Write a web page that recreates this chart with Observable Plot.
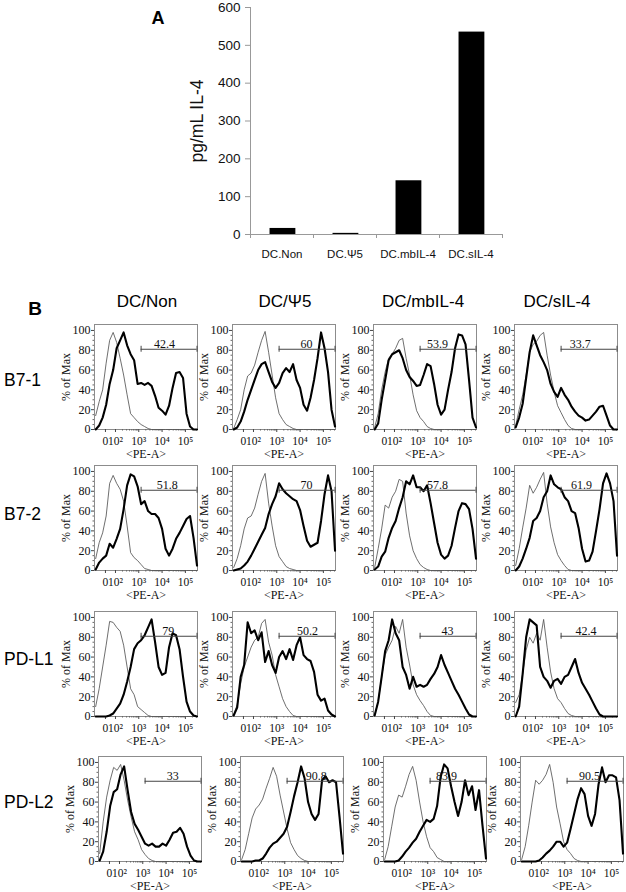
<!DOCTYPE html>
<html><head><meta charset="utf-8">
<script src="https://cdn.jsdelivr.net/npm/d3@7"></script>
<script src="https://cdn.jsdelivr.net/npm/@observablehq/plot@0.6"></script>
<style>
body{margin:0;background:#fff;}
#fig{position:relative;width:626px;height:892px;overflow:hidden;font-family:"Liberation Sans",Arial,sans-serif;color:#000;}
.t{position:absolute;white-space:nowrap;transform:translate(-50%,-50%);line-height:1;}
</style></head><body><div id="fig"></div>
<script>
// ---------- Panel A data ----------
const barCategories = ["DC.Non", "DC.\u03A85", "DC.mbIL-4", "DC.sIL-4"];
const il4Values = [16, 3, 142, 535];
const il4Ticks = [0, 100, 200, 300, 400, 500, 600];

// ---------- Panel B data ----------
const conditions = ["DC/Non", "DC/\u03A85", "DC/mbIL-4", "DC/sIL-4"];
const markers = ["B7-1", "B7-2", "PD-L1", "PD-L2"];
// x grid in decades of <PE-A> (display coordinate)
const XS = [1.15,1.3,1.45,1.6,1.75,1.9,2.05,2.2,2.35,2.5,2.65,2.8,2.95,3.1,3.25,3.4,3.55,3.7,3.85,4.0,4.15,4.3,4.45,4.6,4.75,4.9,5.05,5.2,5.35,5.5];
const xTickPos = [1.57, 2, 3, 4, 5];
const xTickText = ["0", "10\u00B2", "10\u00B3", "10\u2074", "10\u2075"];
const yTicks = [0, 20, 40, 60, 80, 100];

// isotype (thin) and stained (thick) histograms, % of max, columns = conditions
const isoB71 = [
  [14,28,40,67,90,98,88,72,55,35,16,12,8,5,3,1,0,0,0,0,0,0,0,0,0,0,0,0,0,0],
  [1,10,20,40,54,57,65,78,90,99,78,55,32,16,10,5,3,1,0,0,0,0,0,0,0,0,0,0,0,0],
  [2,16,40,58,72,76,82,90,92,72,55,35,19,12,8,3,1,0,0,0,0,0,0,0,0,0,0,0,0,0],
  [4,20,35,55,78,86,89,95,98,75,55,38,24,17,10,4,1,0,0,0,0,0,0,0,0,0,0,0,0,0]
];
const stainB71 = [
  [0,4,12,25,46,60,82,90,98,85,76,70,46,47,45,47,44,34,22,19,15,24,42,57,58,52,16,3,0,0],
  [0,2,8,18,30,40,50,60,66,68,58,48,42,47,57,62,58,66,50,42,25,19,32,50,72,98,82,58,20,3],
  [0,6,30,50,70,76,78,80,72,60,53,49,44,45,55,66,64,46,25,15,20,40,58,82,96,95,86,50,12,2],
  [2,12,26,52,78,95,85,75,68,60,46,38,33,42,35,30,23,18,14,12,9,10,14,18,23,24,14,4,0,0]
];
const isoB72 = [
  [12,28,38,55,88,96,88,82,70,45,18,13,10,6,2,1,0,0,0,0,0,0,0,0,0,0,0,0,0,0],
  [3,12,25,42,53,55,63,77,90,98,68,45,25,14,9,4,2,1,0,0,0,0,0,0,0,0,0,0,0,0],
  [3,22,42,66,63,74,80,92,90,58,35,20,12,6,3,1,0,0,0,0,0,0,0,0,0,0,0,0,0,0],
  [5,22,43,63,86,78,84,92,99,68,44,28,16,10,5,1,0,0,0,0,0,0,0,0,0,0,0,0,0,0]
];
const stainB72 = [
  [1,8,12,15,27,23,32,42,62,86,97,95,85,67,70,60,57,57,53,42,22,15,22,32,38,45,52,55,33,5],
  [0,1,2,5,9,15,22,29,36,43,57,67,75,88,82,78,75,72,70,61,45,30,24,26,28,50,77,96,80,20],
  [1,4,14,19,33,43,50,63,74,90,87,96,84,84,80,86,68,48,28,16,12,15,25,43,60,68,67,62,42,12],
  [0,4,12,22,33,50,53,60,74,80,96,87,84,82,74,70,60,58,43,22,9,10,19,40,62,88,98,88,70,15]
];
const isoPDL1 = [
  [10,28,50,72,96,95,90,86,72,50,28,22,10,7,4,1,0,0,0,0,0,0,0,0,0,0,0,0,0,0],
  [2,12,33,50,60,70,77,80,94,98,75,62,42,30,18,10,5,1,0,0,0,0,0,0,0,0,0,0,0,0],
  [2,15,40,62,70,77,91,84,98,70,52,32,22,16,11,5,1,0,0,0,0,0,0,0,0,0,0,0,0,0],
  [14,22,43,67,80,74,84,77,98,70,45,28,18,14,8,3,1,0,0,0,0,0,0,0,0,0,0,0,0,0]
];
const stainPDL1 = [
  [0,0,0,0,1,3,8,13,22,35,50,68,74,77,82,90,98,75,50,42,44,70,84,82,68,40,15,5,1,0],
  [1,9,40,52,95,84,87,77,85,55,66,52,44,60,66,58,68,57,72,80,62,58,56,45,22,16,18,6,2,0],
  [1,15,40,66,77,98,84,77,50,42,28,40,30,32,30,32,38,43,50,62,52,44,36,28,22,15,8,2,0,0],
  [0,10,43,80,98,95,92,50,40,36,29,36,38,33,40,42,50,58,44,34,28,22,15,8,2,0,0,0,0,0]
];
const isoPDL2 = [
  [8,40,65,82,95,92,98,82,62,45,30,22,12,7,3,1,0,0,0,0,0,0,0,0,0,0,0,0,0,0],
  [2,12,28,44,53,57,63,74,84,95,86,67,50,33,19,12,6,3,1,0,0,0,0,0,0,0,0,0,0,0],
  [2,15,35,55,67,65,76,88,96,82,60,40,25,14,10,4,2,0,0,0,0,0,0,0,0,0,0,0,0,0],
  [2,15,36,60,82,78,82,88,98,80,55,38,20,12,8,3,1,0,0,0,0,0,0,0,0,0,0,0,0,0]
];
const stainPDL2 = [
  [1,10,30,56,70,73,88,96,72,50,38,32,25,18,16,18,15,15,18,16,22,29,30,34,28,15,6,1,0,0],
  [0,0,0,0,1,1,3,8,14,18,20,24,28,35,50,66,80,96,84,60,48,42,48,82,86,80,82,80,45,8],
  [0,0,0,0,1,5,10,14,19,23,30,36,42,40,43,56,85,98,94,76,60,46,60,82,67,76,52,72,36,3],
  [0,0,0,0,0,1,4,8,11,15,20,20,15,19,33,48,63,74,68,46,36,48,78,95,80,87,87,85,62,8]
];
const gatePct = [
  ["42.4", "60", "53.9", "33.7"],
  ["51.8", "70", "57.8", "61.9"],
  ["79", "50.2", "43", "42.4"],
  ["33", "90.8", "83.9", "90.5"]
];
const gateLabelAt = [
  [4.1, 4.28, 3.85, 3.92],
  [4.22, 4.28, 3.85, 3.98],
  [4.26, 4.32, 4.28, 4.17],
  [4.29, 4.35, 3.8, 4.06]
];
const gateFrom = 3.1, gateTo = 5.5, gateLevel = 81;

// ---------- helpers ----------
const fig = document.getElementById("fig");
function put(el, left, top) {
  el.style.position = "absolute"; el.style.left = left + "px"; el.style.top = top + "px";
  fig.appendChild(el);
}
function label(text, cx, cy, size, bold, anchorLeft) {
  const d = document.createElement("div");
  d.className = "t"; d.textContent = text;
  d.style.fontSize = size + "px";
  if (bold) d.style.fontWeight = "bold";
  d.style.left = cx + "px"; d.style.top = cy + "px";
  if (anchorLeft) d.style.transform = "translate(0,-50%)";
  fig.appendChild(d);
}

// ---------- Panel A ----------
const barData = barCategories.map((c, i) => ({c, i, v: il4Values[i]}));
const chartA = Plot.plot({
  width: 370, height: 270,
  marginLeft: 110, marginRight: 8, marginTop: 7, marginBottom: 36,
  style: {fontFamily: "'Liberation Sans', Arial, sans-serif", background: "transparent", overflow: "visible", color: "#111"},
  x: {domain: [0, 4]},
  y: {domain: [0, 600]},
  marks: [
    Plot.rectY(barData, {x1: d => d.i + 0.31, x2: d => d.i + 0.72, y1: 0, y2: "v", fill: "#000"}),
    Plot.axisY({ticks: il4Ticks, tickSize: 5, tickPadding: 5, fontSize: 13.5, stroke: "#999", label: null}),
    Plot.ruleX([0], {stroke: "#999"}),
    Plot.ruleY([0], {stroke: "#999"}),
    Plot.axisX({ticks: [0, 1, 2, 3, 4], tickSize: 4, tickFormat: () => "", stroke: "#999", label: null}),
    Plot.axisX({ticks: [0.5, 1.5, 2.5, 3.5], tickSize: 0, tickPadding: 15, fontSize: 11.5,
      tickFormat: t => barCategories[Math.floor(t)], label: null}),
    Plot.text(["pg/mL IL-4"], {frameAnchor: "left", textAnchor: "middle", lineAnchor: "middle", rotate: -90, dx: -53, fontSize: 17.5})
  ]
});
put(chartA, 140, 0);
label("A", 158, 18, 18, true);

// ---------- Panel B ----------
label("B", 35, 308, 19, true);
const headerX = [147, 285, 423, 557];
conditions.forEach((c, j) => label(c, headerX[j], 301, 17));
const rowLabelY = [381, 515, 660, 803];
markers.forEach((m, r) => label(m, 4, rowLabelY[r], 17.5, false, true));

const isoSets = [isoB71, isoB72, isoPDL1, isoPDL2];
const stainSets = [stainB71, stainB72, stainPDL1, stainPDL2];
const rowTop = [324, 465, 611, 756];
const colLeft = [[94, 232, 373, 514], [94, 232, 373, 514], [94, 232, 373, 514], [98, 240, 383, 520]];
const minorX = [2, 3, 4].flatMap(n => d3.range(2, 10).map(k => n + Math.log10(k))).concat([5.301, 5.477]);
const minorY = d3.range(0, 101, 5).filter(v => v % 20 !== 0);

function histogram(iso, stain, pct, labelAt) {
  const isoData = XS.map((x, k) => ({x, y: iso[k]}));
  const stainData = XS.map((x, k) => ({x, y: stain[k]}));
  const gate = [{x1: gateFrom, x2: gateTo, y: gateLevel}];
  return Plot.plot({
    width: 36 + 103 + 9, height: 2 + 105 + 33,
    marginLeft: 36, marginRight: 9, marginTop: 2, marginBottom: 33,
    style: {fontFamily: "'Liberation Serif', 'Times New Roman', serif", background: "transparent", overflow: "visible", color: "#111"},
    x: {domain: [1.1, 5.52]},
    y: {domain: [0, 106]},
    marks: [
      Plot.frame({stroke: "#8c8c8c"}),
      Plot.axisY({ticks: yTicks, tickSize: 3, tickPadding: 1, fontSize: 12, stroke: "#444", label: null}),
      Plot.axisY({ticks: minorY, tickSize: 1.5, tickFormat: () => "", stroke: "#666", label: null}),
      Plot.axisX({ticks: xTickPos, tickSize: 3, tickPadding: 4, fontSize: 11.5, stroke: "#444",
        tickFormat: d => xTickText[xTickPos.indexOf(d)], label: null}),
      Plot.axisX({ticks: minorX, tickSize: 1.5, tickFormat: () => "", stroke: "#666", label: null}),
      Plot.text(["% of Max"], {frameAnchor: "left", textAnchor: "middle", lineAnchor: "middle", rotate: -90, dx: -28, fontSize: 12}),
      Plot.text(["<PE-A>"], {frameAnchor: "bottom", textAnchor: "middle", lineAnchor: "middle", dy: 25, fontSize: 12}),
      Plot.line(isoData, {x: "x", y: "y", stroke: "#555", strokeWidth: 0.85}),
      Plot.line(stainData, {x: "x", y: "y", stroke: "#000", strokeWidth: 2.1}),
      Plot.ruleY(gate, {y: "y", x1: "x1", x2: "x2", stroke: "#444", strokeWidth: 1}),
      Plot.ruleX([gateFrom, gateTo], {x: d => d, y1: gateLevel - 3, y2: gateLevel + 3, stroke: "#444", strokeWidth: 1}),
      Plot.text([pct], {x: labelAt, y: gateLevel, dy: -1, lineAnchor: "bottom", textAnchor: "middle", fontSize: 12})
    ]
  });
}

markers.forEach((m, r) => {
  conditions.forEach((c, j) => {
    const chart = histogram(isoSets[r][j], stainSets[r][j], gatePct[r][j], gateLabelAt[r][j]);
    put(chart, colLeft[r][j] - 36, rowTop[r] - 2);
  });
});
</script>
</body></html>
